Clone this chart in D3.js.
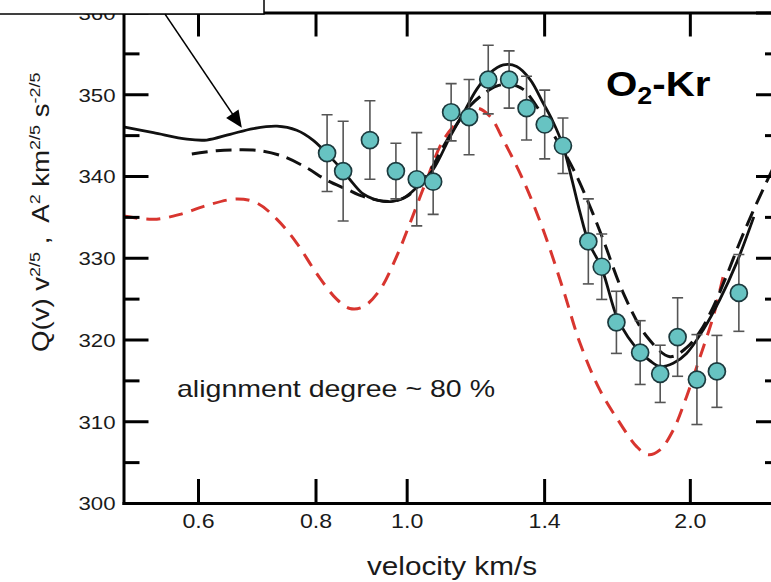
<!DOCTYPE html>
<html><head><meta charset="utf-8">
<script src="https://cdn.jsdelivr.net/npm/d3@7"></script>
<style>
html,body{margin:0;padding:0;background:#fff;overflow:hidden}
svg{display:block}
text{font-family:"Liberation Sans",Arial,Helvetica,sans-serif}
</style></head><body>
<svg id="chart" width="771" height="582"></svg>
<script>
// ---- data ----
const xTicks = [0.6, 0.8, 1.0, 1.4, 2.0];
const yMajorTicks = [300, 310, 320, 330, 340, 350, 360];
const yMinorTicks = [305, 315, 325, 335, 345, 355];

// measured points (velocity km/s, Q v^2/5, error)
const velocity = [0.823,0.856,0.914,0.974,1.025,1.067,1.115,1.165,1.221,1.285,1.341,1.402,1.466,1.560,1.612,1.671,1.771,1.860,1.941,2.035,2.137,2.255];
const qValues  = [342.8,340.6,344.4,340.6,339.6,339.3,347.8,347.2,351.8,351.8,348.3,346.3,343.7,332.0,328.9,322.1,318.4,315.8,320.3,315.1,316.1,325.7];
const qErrors  = [4.7,6.1,4.8,3.4,5.7,4.0,3.5,4.6,4.2,3.5,3.9,4.2,3.4,5.2,4.0,3.8,3.9,3.5,4.8,5.5,4.4,4.7];

// solid black curve
const solidV = [0.500,0.538,0.584,0.613,0.649,0.687,0.728,0.764,0.795,0.822,0.856,0.877,0.899,0.921,0.944,0.967,0.993,1.025,1.067,1.112,1.149,1.187,1.226,1.267,1.309,1.353,1.397,1.430,1.466,1.499,1.528,1.560,1.612,1.672,1.719,1.770,1.814,1.859,1.920,1.984,2.067,2.153,2.243,2.339];
const solidQ = [346.0,345.3,344.5,344.4,345.1,345.8,346.1,345.6,344.4,342.8,340.6,339.1,337.8,337.2,336.9,336.9,337.3,338.6,340.8,344.8,347.7,350.6,352.6,353.6,353.4,351.8,348.9,346.7,343.7,339.5,335.6,332.0,328.7,322.8,320.3,318.5,317.4,316.7,317.1,318.3,321.2,324.9,329.4,335.0];

// black dashed curve
const dashV = [0.591,0.628,0.660,0.698,0.739,0.783,0.822,0.863,0.899,0.960,1.000,1.050,1.094,1.130,1.168,1.206,1.246,1.288,1.330,1.375,1.444,1.479,1.516,1.566,1.618,1.699,1.799,1.905,1.984,2.051,2.118,2.188,2.260,2.333,2.414,2.500];
const dashQ = [342.7,343.1,343.2,343.1,342.4,341.0,339.5,338.4,337.5,336.9,337.5,340.0,343.6,346.3,348.6,350.0,351.0,351.2,350.6,348.5,344.4,342.4,340.0,336.3,332.2,325.7,320.4,317.9,319.0,321.0,324.0,327.8,331.9,335.6,339.3,343.0];

// red dashed curve
const redV = [0.500,0.538,0.574,0.613,0.660,0.693,0.728,0.764,0.802,0.843,0.870,0.899,0.937,0.976,1.008,1.050,1.094,1.149,1.187,1.226,1.267,1.330,1.397,1.467,1.528,1.605,1.685,1.756,1.806,1.859,1.920,1.984,2.051,2.118,2.170];
const redQ = [335.1,334.7,335.3,336.4,337.2,336.7,334.7,331.8,328.1,324.9,323.8,324.0,326.1,330.2,334.2,339.5,344.4,347.3,348.3,347.3,344.4,339.5,333.4,326.1,319.6,313.8,309.8,306.9,305.9,306.5,308.9,313.0,317.9,322.8,327.7];

// annotation arrow (data coordinates)
const arrowTail = [0.5535, 359.8];
const arrowTip  = [0.668, 345.9];

// ---- chart ----
const svg = d3.select("#chart");
const M = {left:123.5, right:781, top:12.5, bottom:503};
const x = d3.scaleLog().domain([0.5, 2.5]).range([M.left, M.right]);
const y = d3.scaleLinear().domain([300, 360]).range([M.bottom, M.top]);

svg.append("clipPath").attr("id","plotclip").append("rect")
  .attr("x",M.left).attr("y",M.top).attr("width",M.right-M.left).attr("height",M.bottom-M.top);

const plot = svg.append("g").attr("clip-path","url(#plotclip)");
const line = d3.line().x(d=>x(d[0])).y(d=>y(d[1])).curve(d3.curveCatmullRom.alpha(0.5));

plot.append("path").datum(d3.zip(redV, redQ)).attr("d", line)
  .attr("fill","none").attr("stroke","#d8352f").attr("stroke-width",3).attr("stroke-dasharray","14,9");
plot.append("path").datum(d3.zip(dashV, dashQ)).attr("d", line)
  .attr("fill","none").attr("stroke","#111").attr("stroke-width",3).attr("stroke-dasharray","16,8");
plot.append("path").datum(d3.zip(solidV, solidQ)).attr("d", line)
  .attr("fill","none").attr("stroke","#111").attr("stroke-width",2.8);

// error bars
const pts = d3.zip(velocity, qValues, qErrors);
const eb = plot.append("g").attr("stroke","#555").attr("stroke-width",1.6);
pts.forEach(([v,q,e])=>{
  const cx = x(v);
  eb.append("line").attr("x1",cx).attr("x2",cx).attr("y1",y(q+e)).attr("y2",y(q-e));
  eb.append("line").attr("x1",cx-5.5).attr("x2",cx+5.5).attr("y1",y(q+e)).attr("y2",y(q+e));
  eb.append("line").attr("x1",cx-5.5).attr("x2",cx+5.5).attr("y1",y(q-e)).attr("y2",y(q-e));
});
plot.append("g").selectAll("circle").data(pts).join("circle")
  .attr("cx",d=>x(d[0])).attr("cy",d=>y(d[1])).attr("r",8.5)
  .attr("fill","#67c3c2").attr("stroke","#1c3a3e").attr("stroke-width",1.7);

// axes
function styleAxis(g, keepDomain){
  g.attr("font-size",null).attr("font-family",null);
  if(keepDomain) g.select("path.domain").attr("stroke","#000").attr("stroke-width",3).attr("stroke-linecap","square");
  else g.select("path.domain").remove();
  g.selectAll(".tick line").attr("stroke","#000").attr("stroke-width",3);
}
const gx = svg.append("g").attr("transform",`translate(0,${M.bottom})`)
  .call(d3.axisBottom(x).tickValues(xTicks).tickFormat(d3.format(".1f")).tickSizeInner(-24).tickSizeOuter(0));
styleAxis(gx, true);
gx.selectAll(".tick text").attr("y",null).attr("dy",null)
  .attr("transform","translate(0,25) scale(1.13,1)").style("font-size","20.5px").attr("fill","#1a1a1a");

const gxt = svg.append("g").attr("transform",`translate(0,${M.top})`)
  .call(d3.axisTop(x).tickValues(xTicks).tickFormat(()=>"").tickSizeInner(-24).tickSizeOuter(0));
styleAxis(gxt, true);

const gy = svg.append("g").attr("transform",`translate(${M.left},0)`)
  .call(d3.axisLeft(y).tickValues(yMajorTicks).tickFormat(d3.format("d")).tickSizeInner(-25).tickSizeOuter(0));
styleAxis(gy, true);
gy.selectAll(".tick text").attr("x",null).attr("dy","0.36em")
  .attr("transform","translate(-8,0) scale(1.17,1)").style("font-size","19px").attr("fill","#1a1a1a");
const gym = svg.append("g").attr("transform",`translate(${M.left},0)`)
  .call(d3.axisLeft(y).tickValues(yMinorTicks).tickFormat(()=>"").tickSizeInner(-16).tickSizeOuter(0));
styleAxis(gym, false);

const gyr = svg.append("g").attr("transform",`translate(${M.right},0)`)
  .call(d3.axisRight(y).tickValues(yMajorTicks).tickFormat(()=>"").tickSizeInner(-25).tickSizeOuter(0));
styleAxis(gyr, true);
const gyrm = svg.append("g").attr("transform",`translate(${M.right},0)`)
  .call(d3.axisRight(y).tickValues(yMinorTicks).tickFormat(()=>"").tickSizeInner(-16).tickSizeOuter(0));
styleAxis(gyrm, false);

// axis titles
svg.append("text").attr("x",452).attr("y",575).attr("text-anchor","middle")
  .attr("textLength",170).attr("lengthAdjust","spacingAndGlyphs")
  .style("font-size","25px").attr("fill","#1a1a1a").text("velocity km/s");

const yl = svg.append("text").attr("transform","translate(49,352) rotate(-90) scale(1.2,1)")
  .style("font-size","23px").style("white-space","pre").attr("fill","#1a1a1a");
yl.append("tspan").text("Q(v) v");
yl.append("tspan").attr("dy",-9).style("font-size","15px").text("2/5");
yl.append("tspan").attr("dy",9).text(" ,  A");
yl.append("tspan").attr("dy",-9).style("font-size","15px").text("2");
yl.append("tspan").attr("dy",9).text(" km");
yl.append("tspan").attr("dy",-9).style("font-size","15px").text("2/5");
yl.append("tspan").attr("dy",9).text(" s");
yl.append("tspan").attr("dy",-9).style("font-size","15px").text("-2/5");

// annotations
svg.append("text").attr("x",177).attr("y",397)
  .attr("textLength",318).attr("lengthAdjust","spacingAndGlyphs")
  .style("font-size","24px").attr("fill","#1a1a1a").text("alignment degree ~ 80 %");

const ot = svg.append("text").attr("transform","translate(606,96) scale(1.12,1)")
  .style("font-size","36px").style("font-weight","bold").attr("fill","#000");
ot.append("tspan").text("O");
ot.append("tspan").attr("dy",8).style("font-size","24px").text("2");
ot.append("tspan").attr("dy",-8).text("-Kr");

// box at top-left
svg.append("rect").attr("x",-2).attr("y",-12).attr("width",266).attr("height",26)
  .attr("fill","#fff").attr("stroke","#000").attr("stroke-width",1.5);

// arrow
const t0 = [x(arrowTail[0]), y(arrowTail[1])], t1 = [x(arrowTip[0]), y(arrowTip[1])];
const dx = t1[0]-t0[0], dy = t1[1]-t0[1], L = Math.hypot(dx,dy), ux = dx/L, uy = dy/L;
const hl = 17, hw = 7.5;
const bx = t1[0]-ux*hl, by = t1[1]-uy*hl;
svg.append("line").attr("x1",t0[0]).attr("y1",t0[1]).attr("x2",bx+ux*2).attr("y2",by+uy*2)
  .attr("stroke","#000").attr("stroke-width",1.6);
svg.append("path").attr("d",`M${t1[0]},${t1[1]}L${bx-uy*hw},${by+ux*hw}L${bx+uy*hw},${by-ux*hw}Z`).attr("fill","#000");
</script>
</body></html>
